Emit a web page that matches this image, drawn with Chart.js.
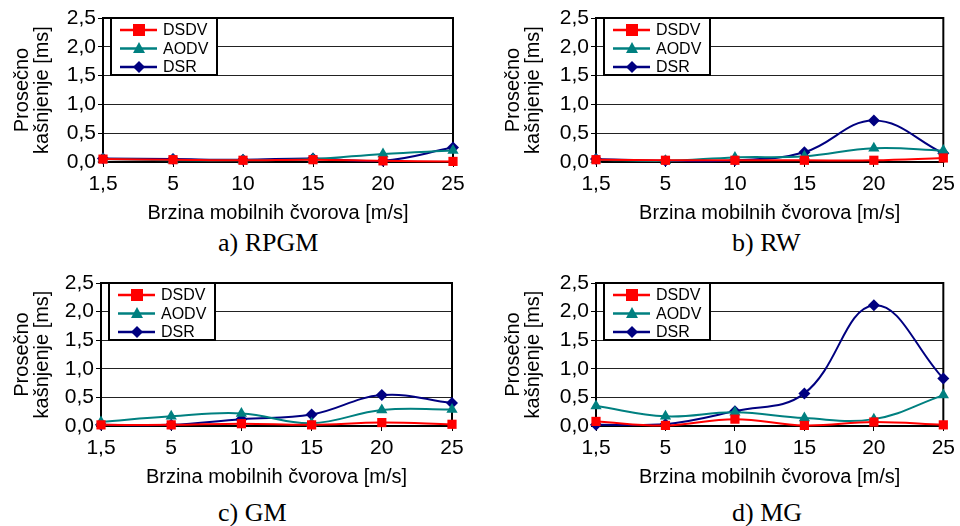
<!DOCTYPE html>
<html>
<head>
<meta charset="utf-8">
<script src="https://cdn.jsdelivr.net/npm/chart.js@4/dist/chart.umd.min.js"></script>
<style>
  body { margin: 0; background: #fff; }
  #page { position: relative; width: 960px; height: 526px; overflow: hidden; }
  .pane { position: absolute; width: 480px; height: 225px; }
  .pane canvas { display: block; }
  .cap { position: absolute; font-family: "Liberation Serif", "Times New Roman", serif;
         font-size: 26px; line-height: 26px; white-space: nowrap; color: #000; }
</style>
</head>
<body>
<div id="page">
  <div class="pane" style="left:0;top:0"><canvas id="c0" width="480" height="225"></canvas></div>
  <div class="pane" style="left:480px;top:0"><canvas id="c1" width="480" height="225"></canvas></div>
  <div class="pane" style="left:0;top:264px"><canvas id="c2" width="480" height="225"></canvas></div>
  <div class="pane" style="left:480px;top:264px"><canvas id="c3" width="480" height="225"></canvas></div>
  <div class="cap" style="left:218px;top:230px">a) RPGM</div>
  <div class="cap" style="left:732px;top:230px">b) RW</div>
  <div class="cap" style="left:218px;top:500px">c) GM</div>
  <div class="cap" style="left:732px;top:500px">d) MG</div>
</div>
<script>
// x categories and y tick labels
const speeds = ['1,5', '5', '10', '15', '20', '25'];
const yTickLabels = ['0,0', '0,5', '1,0', '1,5', '2,0', '2,5'];
const protocols = ['DSDV', 'AODV', 'DSR'];

// a) RPGM
const rpgmDSDV = [0.05, 0.04, 0.03, 0.04, 0.02, 0.01];
const rpgmAODV = [0.05, 0.03, 0.03, 0.05, 0.14, 0.20];
const rpgmDSR  = [0.06, 0.05, 0.04, 0.06, 0.02, 0.25];
// b) RW
const rwDSDV = [0.04, 0.03, 0.03, 0.03, 0.03, 0.07];
const rwAODV = [0.04, 0.02, 0.08, 0.10, 0.24, 0.20];
const rwDSR  = [0.05, 0.02, 0.03, 0.17, 0.72, 0.15];
// c) GM
const gmDSDV = [0.02, 0.02, 0.04, 0.02, 0.06, 0.03];
const gmAODV = [0.07, 0.17, 0.22, 0.05, 0.28, 0.29];
const gmDSR  = [0.02, 0.02, 0.12, 0.20, 0.54, 0.40];
// d) MG
const mgDSDV = [0.08, 0.01, 0.12, 0.01, 0.07, 0.02];
const mgAODV = [0.35, 0.17, 0.24, 0.14, 0.12, 0.54];
const mgDSR  = [0.02, 0.03, 0.26, 0.57, 2.11, 0.83];

const colors = ['#ff0000', '#008080', '#000080'];
const markers = ['rect', 'triangle', 'rectRot'];
const markerR = [6.5, 6.5, 6];
const FONT = '"Liberation Sans", Arial, sans-serif';

function drawMarker(ctx, style, x, y, r) {
  ctx.beginPath();
  if (style === 'rect') {
    ctx.rect(x - r, y - r, 2 * r, 2 * r);
  } else if (style === 'triangle') {
    ctx.moveTo(x, y - r * 1.1);
    ctx.lineTo(x + r, y + r * 0.75);
    ctx.lineTo(x - r, y + r * 0.75);
    ctx.closePath();
  } else {
    ctx.moveTo(x - r, y);
    ctx.lineTo(x, y - r);
    ctx.lineTo(x + r, y);
    ctx.lineTo(x, y + r);
    ctx.closePath();
  }
  ctx.fill();
}

// frame round the plot and the boxed legend in its top-left corner
const frameLegend = {
  id: 'frameLegend',
  beforeDatasetsDraw(chart) {
    const ctx = chart.ctx, a = chart.chartArea;
    ctx.save();
    ctx.strokeStyle = '#000';
    ctx.lineWidth = 2;
    ctx.strokeRect(a.left, a.top, a.right - a.left, a.bottom - a.top);
    const x = a.left + 8, y = a.top, w = 106, h = 57;
    ctx.fillStyle = '#fff';
    ctx.fillRect(x, y, w, h);
    ctx.strokeRect(x, y, w, h);
    chart.data.datasets.forEach((ds, i) => {
      const cy = y + 12 + i * 18.5;
      ctx.strokeStyle = ds.borderColor;
      ctx.lineWidth = 2.5;
      ctx.beginPath();
      ctx.moveTo(x + 9, cy);
      ctx.lineTo(x + 46, cy);
      ctx.stroke();
      ctx.fillStyle = ds.borderColor;
      drawMarker(ctx, markers[i], x + 28, cy, 6);
      ctx.fillStyle = '#000';
      ctx.font = '16px ' + FONT;
      ctx.textBaseline = 'middle';
      ctx.fillText(ds.label, x + 52, cy + 1);
    });
    ctx.restore();
  }
};

const panels = [
  { id: 'c0', yWidth: 103, right: 27, top: 18, titlePad: 12, series: [rpgmDSDV, rpgmAODV, rpgmDSR] },
  { id: 'c1', yWidth: 116, right: 13, top: 18, titlePad: 23, series: [rwDSDV, rwAODV, rwDSR] },
  { id: 'c2', yWidth: 101, right: 28, top: 19, titlePad: 12, series: [gmDSDV, gmAODV, gmDSR] },
  { id: 'c3', yWidth: 116, right: 13, top: 19, titlePad: 23, series: [mgDSDV, mgAODV, mgDSR] },
];

panels.forEach(p => {
  new Chart(document.getElementById(p.id), {
    type: 'line',
    data: {
      labels: speeds,
      datasets: p.series.map((vals, i) => ({
        label: protocols[i],
        data: vals,
        borderColor: colors[i],
        backgroundColor: colors[i],
        borderWidth: 2,
        tension: 0.4,
        pointStyle: markers[i],
        pointRadius: markerR[i],
        pointBorderWidth: 0,
        clip: false,
      })),
    },
    options: {
      responsive: false,
      animation: false,
      devicePixelRatio: 1,
      layout: { padding: { left: 0, right: p.right, top: p.top, bottom: 0 } },
      plugins: { legend: { display: false }, tooltip: { enabled: false } },
      scales: {
        x: {
          type: 'category',
          offset: false,
          grid: { drawOnChartArea: false, drawTicks: true, tickLength: 5, tickColor: '#000' },
          border: { color: '#000', width: 2 },
          ticks: { color: '#000', font: { family: FONT, size: 21 }, padding: 5, maxRotation: 0 },
          title: { display: true, text: 'Brzina mobilnih čvorova [m/s]', color: '#000',
                   font: { family: FONT, size: 20 }, padding: 0 },
          afterFit: s => { s.height = 63; },
        },
        y: {
          min: 0,
          max: 2.5,
          grid: {
            color: c => (c.tick && c.tick.value === 0 ? 'rgba(0,0,0,0)' : '#222'),
            lineWidth: 1,
            drawTicks: true,
            tickLength: 5,
            tickColor: '#000',
          },
          border: { color: '#000', width: 2 },
          ticks: { stepSize: 0.5, color: '#000', font: { family: FONT, size: 21 }, padding: 2,
                   callback: (v, i) => yTickLabels[i] },
          title: { display: true, text: ['Prosečno', 'kašnjenje [ms]'], color: '#000',
                   font: { family: FONT, size: 20, lineHeight: 1 }, padding: { top: p.titlePad, bottom: 0 } },
          afterFit: s => { s.width = p.yWidth; },
        },
      },
    },
    plugins: [frameLegend],
  });
});
</script>
</body>
</html>
